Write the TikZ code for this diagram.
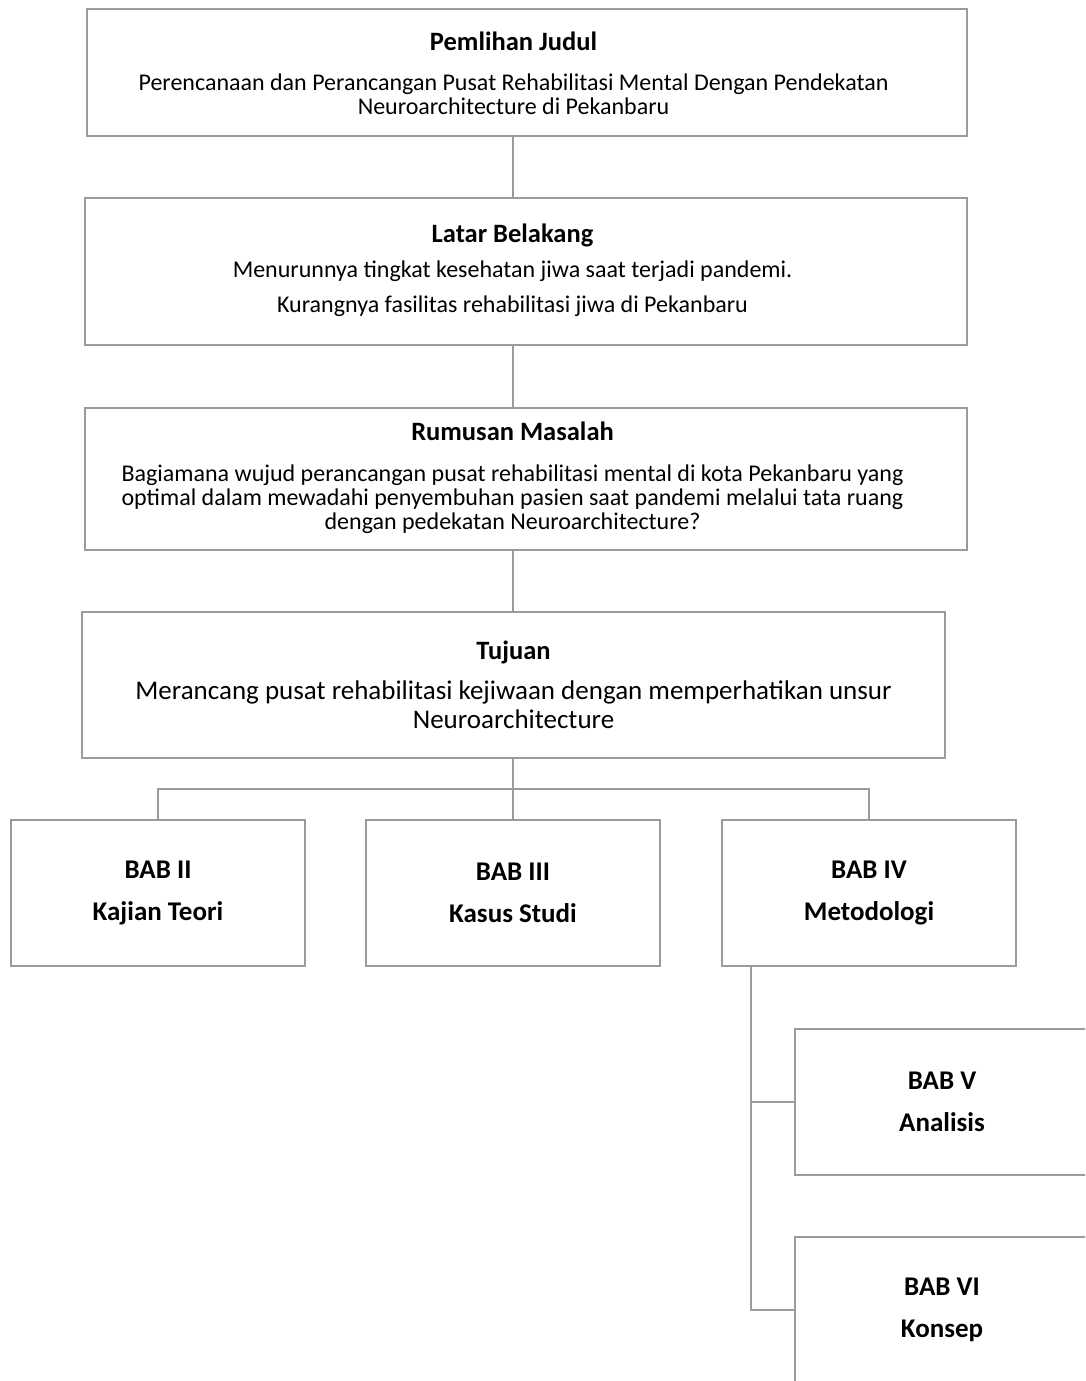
\documentclass[tikz,border=0pt]{standalone}
\usepackage{fontspec}
\setmainfont{Carlito}
\usepackage{xcolor}
\usetikzlibrary{positioning}

\definecolor{linegray}{RGB}{155,155,155}
\newcommand{\boxtitle}[1]{{\fontsize{26.5}{24}\selectfont\bfseries #1}}
% text sits on the spine, a bit left of the box centre
\newcommand{\spinetext}[1]{\begin{tabular}{@{}c@{\hspace{27pt}}}#1\end{tabular}}

\begin{document}
\begin{tikzpicture}[
  x=1pt, y=-1pt,
  box/.style={draw=linegray, line width=2.2pt, align=center, inner sep=0pt,
              outer sep=0pt, anchor=north west, fill=white,
              font=\fontsize{24}{24}\selectfont},
  wide/.style={box, minimum width=882pt, minimum height=144pt},
  bab/.style={box, minimum width=294pt, minimum height=146pt,
              font=\fontsize{27}{32}\selectfont\bfseries},
  link/.style={draw=linegray, line width=2.2pt},
]
  \useasboundingbox (0,0) rectangle (1085,1381);
  \clip (0,0) rectangle (1085,1381);

  % main column
  \node[wide, minimum width=880pt, minimum height=127pt] (judul) at (87,9)
    {\spinetext{\rule{0pt}{27pt}\boxtitle{Pemlihan Judul}\\[16pt]
     Perencanaan dan Perancangan Pusat Rehabilitasi Mental Dengan Pendekatan\\
     Neuroarchitecture di Pekanbaru}};
  \node[wide, minimum height=147pt] (latar) at (85,198)
    {\spinetext{\rule{0pt}{20pt}\boxtitle{Latar Belakang}\\[11pt]
     Menurunnya tingkat kesehatan jiwa saat terjadi pandemi.\\[11pt]
     Kurangnya fasilitas rehabilitasi jiwa di Pekanbaru}};
  \node[wide, minimum height=142pt] (rumusan) at (85,408)
    {\spinetext{\rule{0pt}{20pt}\boxtitle{Rumusan Masalah}\\[17pt]
     Bagiamana wujud perancangan pusat rehabilitasi mental di kota Pekanbaru yang\\
     optimal dalam mewadahi penyembuhan pasien saat pandemi melalui tata ruang\\
     dengan pedekatan Neuroarchitecture?}};
  \node[wide, minimum width=863pt, minimum height=146pt,
        font=\fontsize{27}{29}\selectfont] (tujuan) at (82,612)
    {\boxtitle{Tujuan}\\[11pt]
     Merancang pusat rehabilitasi kejiwaan dengan memperhatikan unsur\\
     Neuroarchitecture};

  % chapters
  \node[bab] (bab2) at (11,820) {BAB II\\[10pt] Kajian Teori};
  \node[bab] (bab3) at (366,820) {BAB III\\[10pt] Kasus Studi};
  \node[bab] (bab4) at (722,820) {BAB IV\\[10pt] Metodologi};
  \node[bab] (bab5) at (795,1029) {BAB V\\[10pt] Analisis};
  \node[bab] (bab6) at (795,1237) {BAB VI\\[10pt] Konsep};

  % connectors
  \coordinate (spine) at (513,0);
  \coordinate (fork) at (513,789);
  \coordinate (trunk) at (751,0);
  \draw[link] (judul.south -| spine) -- (latar.north -| spine);
  \draw[link] (latar.south -| spine) -- (rumusan.north -| spine);
  \draw[link] (rumusan.south -| spine) -- (tujuan.north -| spine);
  \draw[link] (tujuan.south -| fork) -- (fork);
  \draw[link] (bab2.north) |- (fork) -| (bab4.north);
  \draw[link] (fork) -- (bab3.north);
  \draw[link] (bab4.south -| trunk) |- (bab6.west);
  \draw[link] (bab5.west -| trunk) -- (bab5.west);
\end{tikzpicture}
\end{document}
